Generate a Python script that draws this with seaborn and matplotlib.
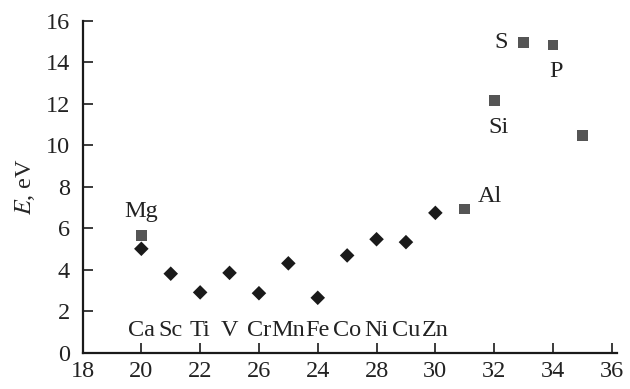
import matplotlib
matplotlib.use('Agg')
import matplotlib.pyplot as plt
import pandas as pd
import seaborn as sns

# 3d-металлы (ромбы)
d_elements = ['Ca', 'Sc', 'Ti', 'V', 'Cr', 'Mn', 'Fe', 'Co', 'Ni', 'Cu', 'Zn']
d_x = [20, 21, 22, 23, 24, 25, 26, 27, 28, 29, 30]
d_energy = [5.02, 3.82, 2.92, 3.86, 2.88, 4.32, 2.66, 4.70, 5.48, 5.34, 6.75]

# sp-элементы (квадраты)
sp_elements = ['Mg', 'Al', 'Si', 'S', 'P', '']
sp_x = [20, 31, 32, 33, 34, 35]
sp_energy = [5.65, 6.94, 12.16, 14.97, 14.84, 10.46]

x_ticks = [18, 20, 22, 24, 26, 28, 30, 32, 34, 36]
x_ticklabels = ['18', '20', '22', '26', '24', '28', '30', '32', '34', '36']
y_ticks = [0, 2, 4, 6, 8, 10, 12, 14, 16]

d_df = pd.DataFrame({'x': d_x, 'E': d_energy, 'el': d_elements})
sp_df = pd.DataFrame({'x': sp_x, 'E': sp_energy, 'el': sp_elements})

sns.set_style('ticks')
plt.rcParams['font.family'] = ['Liberation Serif', 'DejaVu Serif']
plt.rcParams['mathtext.fontset'] = 'stix'

FS = 17.5

fig = plt.figure(figsize=(6.3, 3.89), dpi=100)
ax = fig.add_axes([0.131, 0.0925, 0.848, 0.854])

sns.scatterplot(data=d_df, x='x', y='E', marker='D', s=55, color='#1a1a1a',
                edgecolor='none', ax=ax, legend=False)
sns.scatterplot(data=sp_df, x='x', y='E', marker='s', s=60, color='#555555',
                edgecolor='none', ax=ax, legend=False)

# подписи 3d-металлов вдоль нижней оси
for xv, name in zip(d_x, d_elements):
    ax.text(xv, 1.1, name, ha='center', va='center', fontsize=FS, color='#222222')

# подписи sp-элементов (смещения относительно точек)
offsets = {'Mg': (0, 1.15), 'Al': (0.85, 0.6), 'Si': (0.15, -1.3),
           'S': (-0.75, 0.0), 'P': (0.1, -1.3)}
for xv, yv, name in zip(sp_x, sp_energy, sp_elements):
    if name in offsets:
        dx, dy = offsets[name]
        ax.text(xv + dx, yv + dy, name, ha='center', va='center',
                fontsize=FS, color='#222222')

ax.set_xlim(18, 36.17)
ax.set_ylim(0, 16)
ax.set_xticks(x_ticks)
ax.set_xticklabels(x_ticklabels)
ax.set_yticks(y_ticks)
ax.set_xlabel('')
ax.set_ylabel(r'$E$, eV', fontsize=FS, labelpad=6)

sns.despine(ax=ax)
for sp in ['left', 'bottom']:
    ax.spines[sp].set_linewidth(1.6)
    ax.spines[sp].set_color('#1a1a1a')
ax.tick_params(direction='in', length=7, width=1.2, colors='#1a1a1a',
               labelsize=FS, labelcolor='#222222')
ax.tick_params(axis='x', pad=6)
ax.tick_params(axis='y', pad=9)

fig.savefig('out.png', dpi=100, facecolor='white')
